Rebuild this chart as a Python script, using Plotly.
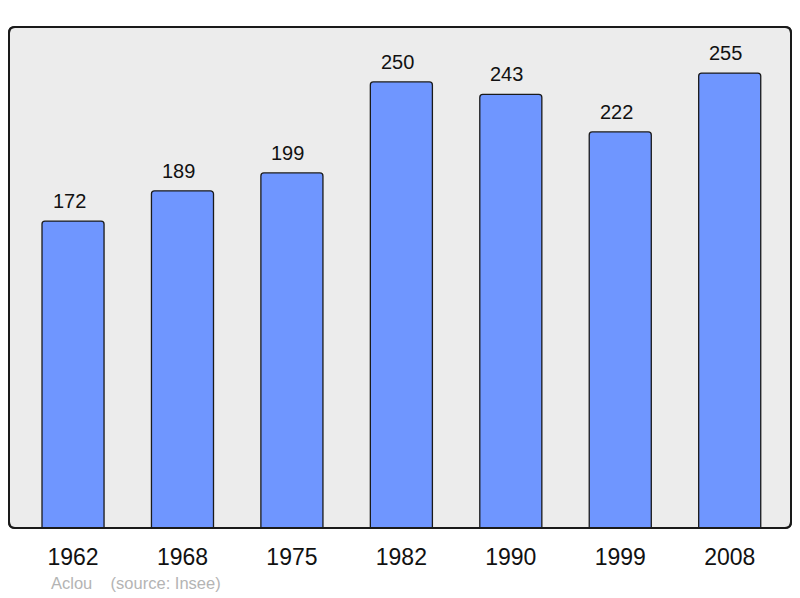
import plotly.graph_objects as go

years = ["1962", "1968", "1975", "1982", "1990", "1999", "2008"]
population = [172, 189, 199, 250, 243, 222, 255]

# page body has an 8px margin; figure size compensates for it
OFF = 8
W, H = 800 - OFF, 598 - OFF
ML, MR, MT, MB = 9 - OFF, 9, 27 - OFF, 70
pw, ph = W - ML - MR, H - MT - MB

x_idx = list(range(len(years)))

fig = go.Figure()
fig.add_trace(go.Bar(
    x=x_idx, y=population, width=0.567,
    marker=dict(color="#6f96ff", line=dict(color="#1a1a1a", width=1.3), cornerradius=3),
    hoverinfo="skip",
))

annotations = []
for xi, v in zip(x_idx, population):
    annotations.append(dict(x=xi, y=v, text=str(v), showarrow=False, yanchor="bottom",
                            yshift=7, xshift=-4,
                            font=dict(size=20, color="#111", family="Liberation Sans")))
annotations.append(dict(xref="paper", yref="paper", x=(49 - 9) / pw, y=-(583 - 528) / ph,
                        text="Aclou&nbsp;&nbsp;&nbsp;&nbsp;(source: Insee)", showarrow=False,
                        xanchor="left", yanchor="middle",
                        font=dict(size=16.5, color="#b4b4b4", family="Liberation Sans")))

# rounded border
r = 6
rx, ry = r / pw, r / ph
path = (f"M {rx},0 L {1-rx},0 Q 1,0 1,{ry} L 1,{1-ry} Q 1,1 {1-rx},1 L {rx},1 Q 0,1 0,{1-ry} "
        f"L 0,{ry} Q 0,0 {rx},0 Z")
shapes = [
    dict(type="path", xref="paper", yref="paper", path=path, fillcolor="#ececec",
         line=dict(color="#1a1a1a", width=2), layer="below"),
    dict(type="path", xref="paper", yref="paper", path=path, fillcolor="rgba(0,0,0,0)",
         line=dict(color="#1a1a1a", width=2), layer="above"),
]

fig.update_layout(
    width=W, height=H,
    margin=dict(l=ML, r=MR, t=MT, b=MB),
    paper_bgcolor="white", plot_bgcolor="rgba(0,0,0,0)",
    showlegend=False,
    xaxis=dict(range=[-0.585, 6.56], tickmode="array", tickvals=x_idx, ticktext=years,
               showgrid=False, zeroline=False, ticks="", showline=False,
               tickfont=dict(size=23, color="#111", family="Liberation Sans"),
               ticklabelstandoff=13),
    yaxis=dict(range=[0, 280.8], visible=False, showgrid=False, zeroline=False),
    annotations=annotations,
    shapes=shapes,
)

fig.write_html("out.html")
